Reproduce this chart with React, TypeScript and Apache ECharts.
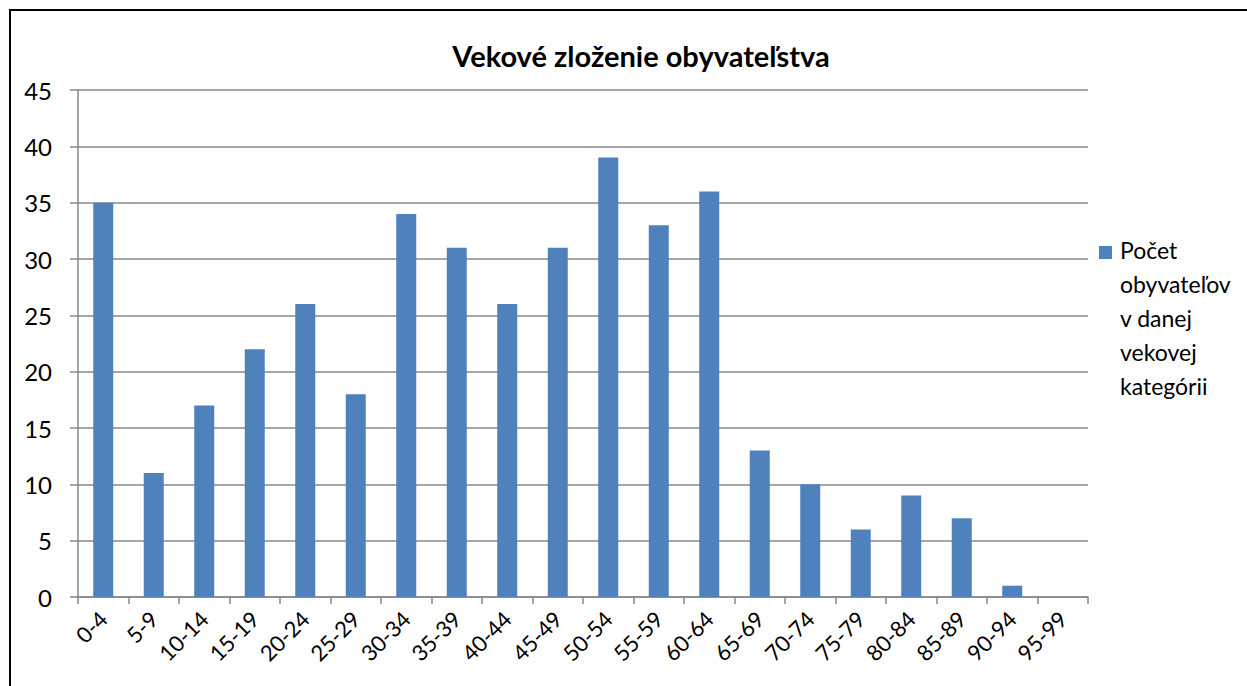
import React, { useEffect, useRef } from "react";
import * as echarts from "echarts";

const categories = ["0-4","5-9","10-14","15-19","20-24","25-29","30-34","35-39","40-44","45-49","50-54","55-59","60-64","65-69","70-74","75-79","80-84","85-89","90-94","95-99"];
const values = [35, 11, 17, 22, 26, 18, 34, 31, 26, 31, 39, 33, 36, 13, 10, 6, 9, 7, 1, 0];
const seriesName = "Počet\nobyvateľov\nv danej\nvekovej\nkategórii";
const titleText = "Vekové zloženie obyvateľstva";

const FONT = "Lato, 'Open Sans', sans-serif";

export default function App() {
  const ref = useRef<HTMLDivElement>(null);
  useEffect(() => {
    const chart = echarts.init(ref.current!, null, { renderer: "svg" });
    chart.setOption({
      animation: false,
      backgroundColor: "#fff",
      textStyle: { fontFamily: FONT, color: "#000" },
      title: {
        text: titleText,
        left: 636,
        top: 36,
        textAlign: "center",
        textStyle: { fontFamily: FONT, fontSize: 29, fontWeight: "bold", color: "#000" },
      },
      legend: {
        orient: "vertical",
        left: 1094,
        top: 228,
        itemWidth: 16,
        itemHeight: 170,
        icon: "path://M0,13h13v13h-13z M0,0 L16,0 M0,170 L16,170",
        itemStyle: { borderWidth: 0 },
        textStyle: { fontFamily: FONT, fontSize: 23, lineHeight: 34, color: "#000" },
        data: [seriesName],
      },
      grid: { left: 78, right: 159, top: 90, bottom: 89, containLabel: false },
      xAxis: {
        type: "category",
        data: categories,
        axisLine: { lineStyle: { color: "#888", width: 1.5 } },
        axisTick: { show: true, alignWithLabel: false, length: 7, lineStyle: { color: "#888", width: 1.5 } },
        axisLabel: { rotate: 45, interval: 0, margin: 18, fontFamily: FONT, fontSize: 22, color: "#000" },
      },
      yAxis: {
        type: "value",
        min: 0,
        max: 45,
        interval: 5,
        axisLine: { show: true, lineStyle: { color: "#888", width: 1.5 } },
        axisTick: { show: true, length: 8, lineStyle: { color: "#888", width: 1.5 } },
        splitLine: { show: true, lineStyle: { color: "#888", width: 1.5 } },
        axisLabel: { margin: 26, fontFamily: FONT, fontSize: 24, color: "#000" },
      },
      series: [
        {
          name: seriesName,
          type: "bar",
          data: values,
          barWidth: 20,
          itemStyle: { color: "#4F81BD" },
        },
      ],
      graphic: [
        {
          type: "rect",
          shape: { x: 10, y: 10, width: 1400, height: 900 },
          style: { fill: "none", stroke: "#000", lineWidth: 2 },
          silent: true,
        },
      ],
    });
    return () => chart.dispose();
  }, []);
  return <div ref={ref} style={{ position: "absolute", left: 0, top: 0, width: 1247, height: 686 }} />;
}
